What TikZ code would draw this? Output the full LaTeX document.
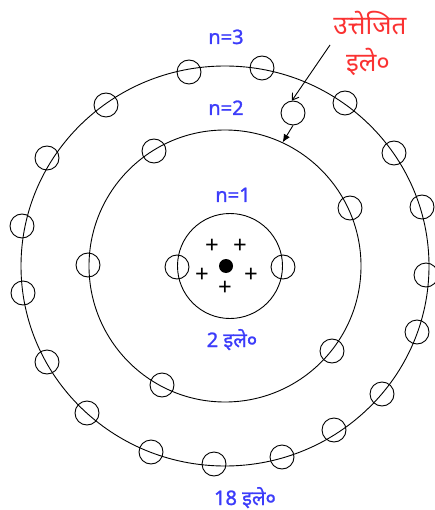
\documentclass[tikz,border=0pt]{standalone}
\usepackage{fontspec}
\setmainfont{Noto Sans}
\newfontfamily\devfont[Script=Devanagari]{Noto Sans}
\newfontfamily\devbold[Script=Devanagari,FakeBold=1.2]{Noto Sans}
\usetikzlibrary{arrows.meta}
\definecolor{lblblue}{RGB}{60,60,250}
\definecolor{lblred}{RGB}{250,50,50}
\tikzset{
  electron/.style={circle, draw, line width=0.9pt, minimum size=24pt, inner sep=0pt},
  orbit/.style={draw, line width=0.9pt},
  bluelabel/.style={text=lblblue, font=\devbold\fontsize{20}{23}\selectfont, anchor=base, inner sep=0pt},
  redlabel/.style={text=lblred, font=\devfont\fontsize{26}{30}\selectfont, anchor=base, inner sep=0pt},
  plussign/.style={font=\fontsize{24}{26}\selectfont\bfseries, inner sep=0pt},
}
\begin{document}
\begin{tikzpicture}[x=1pt, y=-1pt]
\useasboundingbox (0,0) rectangle (435,510);
% orbits
\coordinate (c3) at (225,266);
\draw[orbit] (c3) ellipse [x radius=204, y radius=200];
\node[orbit, circle, minimum size=272pt, inner sep=0pt] (o2) at (225,266) {};
\node[orbit, circle, minimum size=105pt, inner sep=0pt] (o1) at (230,266) {};
% nucleus
\node[circle, fill=black, minimum size=14pt, inner sep=0pt] (nuc) at (226,266) {};
\node[plussign] (p1) at (212,246) {+};
\node[plussign] (p2) at (240,246) {+};
\node[plussign] (p3) at (202,275) {+};
\node[plussign] (p4) at (251,275) {+};
\node[plussign] (p5) at (225,288) {+};
% inner electrons
\node[electron] (i1) at (177,267) {};
\node[electron] (i2) at (283,267) {};
% middle electrons
\node[electron] (m1) at (154,151) {};
\node[electron] (m2) at (350,208) {};
\node[electron] (m3) at (332,351) {};
\node[electron] (m4) at (162,385) {};
\node[electron] (m5) at (88,265) {};
% outer electrons
\foreach \n/\p in {1/{(189,72)},2/{(262,68)},3/{(345,103)},4/{(394,153)},5/{(422,207)},6/{(426,275)},7/{(417,332)},8/{(382,394)},9/{(334,430)},10/{(282,457)},11/{(214,464)},12/{(151,452)},13/{(87,413)},14/{(47,362)},15/{(23,293)},16/{(22,226)},17/{(47,158)},18/{(106,105)}}
  \node[electron] (u\n) at \p {};
% excited electron
\node[electron] (ex) at (293,113) {};
% labels
\node[bluelabel] (l3) at (226,44) {n=3};
\node[bluelabel] (l2) at (226,115) {n=2};
\node[bluelabel] (l1) at (233,202) {n=1};
\node[bluelabel] (c1) at (232,347) {2 इले०};
\node[bluelabel] (c3lbl) at (245,505) {18 इले०};
\node[redlabel] (r1) at (370,35) {उत्तेजित};
\node[redlabel] (r2) at (368,72) {इले०};
% arrows
\coordinate (a0) at (330,45);
\draw[line width=0.9pt, -{Straight Barb[length=6pt,width=8pt]}] (a0) -- (ex.95);
\draw[line width=0.9pt, -{Latex[length=8pt,width=7pt]}] (ex.south) -- (o2.65);
\end{tikzpicture}
\end{document}
